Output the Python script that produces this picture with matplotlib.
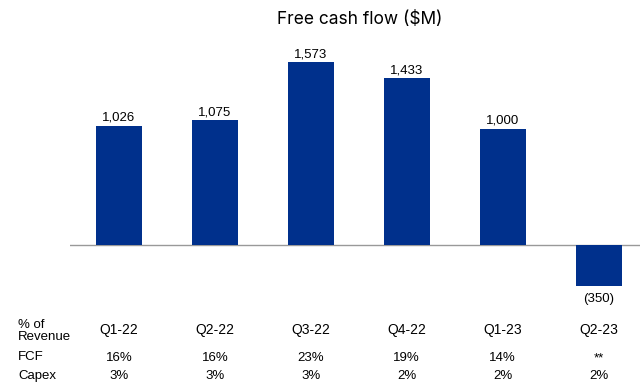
import matplotlib.pyplot as plt

quarters = ["Q1-22", "Q2-22", "Q3-22", "Q4-22", "Q1-23", "Q2-23"]
fcf = [1026, 1075, 1573, 1433, 1000, -350]
fcf_labels = ["1,026", "1,075", "1,573", "1,433", "1,000", "(350)"]
fcf_pct = ["16%", "16%", "23%", "19%", "14%", "**"]
capex_pct = ["3%", "3%", "3%", "2%", "2%", "2%"]

blue = "#00308C"
plt.rcParams['font.family'] = ['Liberation Sans', 'DejaVu Sans']

fig = plt.figure(figsize=(6.4, 3.88), dpi=100)
ax = fig.add_axes([70 / 640, 88 / 388, 570 / 640, 260 / 388])

x = list(range(len(quarters)))
ax.bar(x, fcf, width=0.48, color=blue, zorder=2)
ax.axhline(0, color="#999999", lw=1, zorder=1)
ax.set_xlim(-0.51, 5.43)
ax.set_ylim(-473, 1763)
ax.axis("off")

for xi, v, lab in zip(x, fcf, fcf_labels):
    if v >= 0:
        ax.text(xi, v + 15, lab, ha="center", va="bottom", fontsize=9.5)
    else:
        ax.text(xi, v - 60, lab, ha="center", va="top", fontsize=9.5)

fig.text(360 / 640, 1 - 19 / 388, "Free cash flow ($M)", ha="center", va="center",
         fontsize=12.5, family=["Inter", "DejaVu Sans"])

fig.text(18 / 640, 1 - 331 / 388, "% of\nRevenue", ha="left", va="center",
         fontsize=9.5, linespacing=1.1)
fig.text(18 / 640, 1 - 357 / 388, "FCF", ha="left", va="center", fontsize=9.5)
fig.text(18 / 640, 1 - 376 / 388, "Capex", ha="left", va="center", fontsize=9.5)

trans = ax.get_xaxis_transform()
for xi, q, f, c in zip(x, quarters, fcf_pct, capex_pct):
    ax.text(xi, (300 - 330) / 260, q, transform=trans, ha="center", va="center",
            fontsize=10, clip_on=False)
    ax.text(xi, (300 - 358) / 260, f, transform=trans, ha="center", va="center",
            fontsize=9.5, clip_on=False)
    ax.text(xi, (300 - 376) / 260, c, transform=trans, ha="center", va="center",
            fontsize=9.5, clip_on=False)

fig.savefig("out.png", dpi=100)
